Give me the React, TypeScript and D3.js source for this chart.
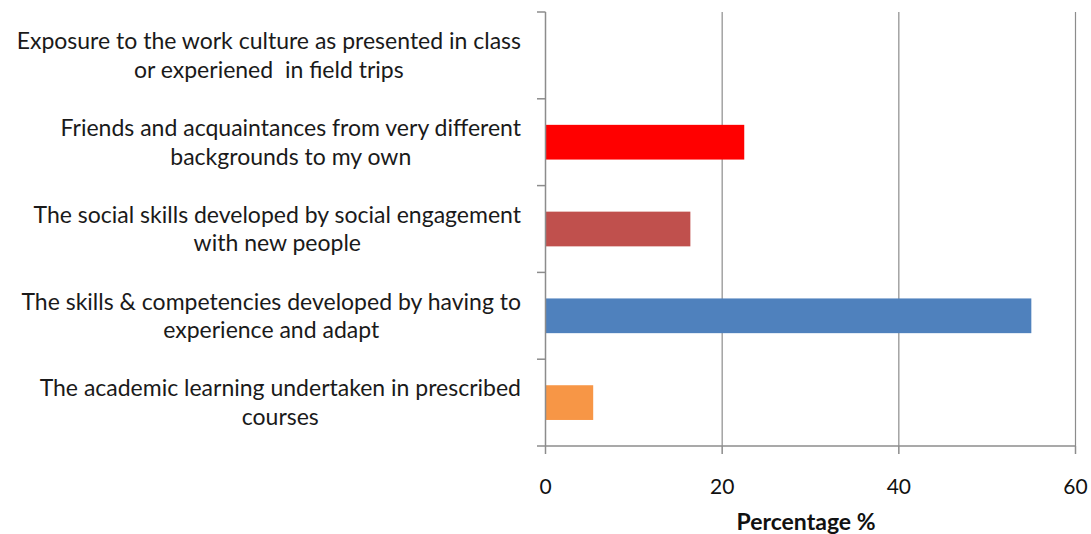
import React, { useEffect, useRef } from "react";
import * as d3 from "d3";

const categories: string[][] = [
  ["Exposure to the work culture as presented in class", "or experiened  in field trips"],
  ["Friends and acquaintances from very different", "backgrounds to my own"],
  ["The social skills developed by social engagement", "with new people"],
  ["The skills & competencies developed by having to", "experience and adapt"],
  ["The academic learning undertaken in prescribed", "courses"],
];
const values: number[] = [0, 22.5, 16.4, 55.0, 5.4];
const colors: string[] = ["#8064A2", "#FF0000", "#C0504D", "#4F81BD", "#F79646"];
const xTicks: number[] = [0, 20, 40, 60];
const xTitle = "Percentage %";

const W = 1091;
const H = 534;
const FONT = "Lato, 'Open Sans', sans-serif";

export default function App() {
  const ref = useRef<SVGSVGElement | null>(null);

  useEffect(() => {
    const svg = d3.select(ref.current);
    svg.selectAll("*").remove();

    const left = 545.5, right = 1075.5, top = 12, bottom = 446;
    const x = d3.scaleLinear().domain([0, 60]).range([left, right]);
    const keys = categories.map((_, i) => String(i));
    const y = d3.scaleBand<string>().domain(keys).range([top, bottom]).paddingInner(0.6).paddingOuter(0.3);
    const step = y.step();
    const axisColor = "#8c8c8c";

    // gridlines
    svg.append("g").selectAll("line").data(xTicks.filter((t) => t > 0)).join("line")
      .attr("x1", (d) => x(d)).attr("x2", (d) => x(d))
      .attr("y1", top).attr("y2", bottom)
      .attr("stroke", axisColor).attr("stroke-width", 1.2);

    // bars
    svg.append("g").selectAll("rect").data(values).join("rect")
      .attr("x", x(0))
      .attr("y", (_, i) => y(String(i)) as number)
      .attr("width", (d) => x(d) - x(0))
      .attr("height", y.bandwidth())
      .attr("fill", (_, i) => colors[i]);

    // left axis
    svg.append("line").attr("x1", left).attr("x2", left).attr("y1", top).attr("y2", bottom)
      .attr("stroke", axisColor).attr("stroke-width", 1.5);
    const boundaries = d3.range(categories.length + 1).map((i) => top + i * step);
    svg.append("g").selectAll("line").data(boundaries).join("line")
      .attr("x1", left - 8.5).attr("x2", left).attr("y1", (d) => d).attr("y2", (d) => d)
      .attr("stroke", axisColor).attr("stroke-width", 1.5);

    // bottom axis
    svg.append("line").attr("x1", left).attr("x2", right).attr("y1", bottom).attr("y2", bottom)
      .attr("stroke", axisColor).attr("stroke-width", 1.5);
    svg.append("g").selectAll("line").data(xTicks).join("line")
      .attr("x1", (d) => x(d)).attr("x2", (d) => x(d)).attr("y1", bottom).attr("y2", bottom + 8)
      .attr("stroke", axisColor).attr("stroke-width", 1.5);
    svg.append("g").selectAll("text").data(xTicks).join("text")
      .attr("x", (d) => x(d)).attr("y", 487).attr("dy", "0.35em")
      .attr("text-anchor", "middle")
      .attr("font-family", FONT).attr("font-size", 21).attr("fill", "#111")
      .text((d) => String(d));

    svg.append("text").attr("x", 806).attr("y", 522).attr("dy", "0.35em")
      .attr("text-anchor", "middle").attr("font-family", FONT).attr("font-size", 23)
      .attr("font-weight", "bold").attr("fill", "#111").text(xTitle);

    // category labels
    const labelRight = 521;
    const lineH = 28.5;
    categories.forEach((lines, i) => {
      const cy = (y(String(i)) as number) + y.bandwidth() / 2;
      const g = svg.append("g");
      const texts = g.selectAll("text").data(lines).join("text")
        .attr("y", (_, j) => cy + (j - (lines.length - 1) / 2) * lineH)
        .attr("dy", "0.35em")
        .attr("text-anchor", "middle")
        .attr("font-family", FONT).attr("font-size", 23).attr("fill", "#1a1a1a")
        .attr("xml:space", "preserve")
        .text((d) => d);
      let maxW = 0;
      texts.each(function () {
        maxW = Math.max(maxW, (this as SVGTextElement).getComputedTextLength());
      });
      texts.attr("x", labelRight - maxW / 2);
    });
  }, []);

  return (
    <svg ref={ref} width={W} height={H} style={{ position: "absolute", left: 0, top: 0, background: "#fff" }} />
  );
}
